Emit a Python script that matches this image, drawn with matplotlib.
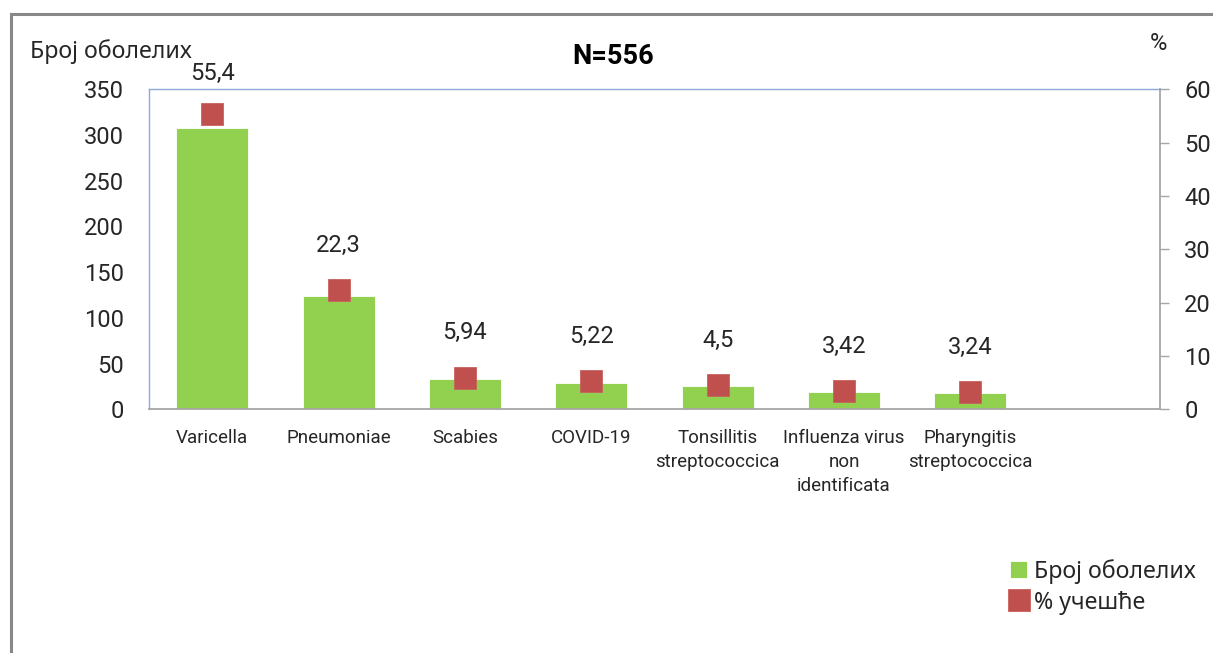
import matplotlib
matplotlib.use("Agg")
import matplotlib.pyplot as plt
from matplotlib.patches import Rectangle
import numpy as np

plt.rcParams['font.family'] = ['Roboto', 'DejaVu Sans']
CYR = ['Noto Sans', 'DejaVu Sans']

categories = ["Varicella", "Pneumoniae", "Scabies", "COVID-19",
              "Tonsillitis\nstreptococcica", "Influenza virus\nnon\nidentificata",
              "Pharyngitis\nstreptococcica"]
counts = [308, 124, 33, 29, 25, 19, 18]
percents = [55.4, 22.3, 5.94, 5.22, 4.5, 3.42, 3.24]
pct_labels = ["55,4", "22,3", "5,94", "5,22", "4,5", "3,42", "3,24"]
left_ticks = [0, 50, 100, 150, 200, 250, 300, 350]
right_ticks = [0, 10, 20, 30, 40, 50, 60]

GREEN = "#92D050"
RED = "#C0504D"
BLUE = "#8EA9DB"
GRAY = "#A6A6A6"
TXT = "#262626"

W, H = 1213, 653
fig = plt.figure(figsize=(W/100, H/100), dpi=100)
ax = fig.add_axes([149/W, 1-409.3/H, (1160-149)/W, (409.3-89.3)/H])
ax2 = ax.twinx()

x = np.arange(len(categories))
bars = ax.bar(x, counts, width=0.57, color=GREEN, edgecolor="white", linewidth=0.6,
              label="Број оболелих", zorder=2)
ax.set_xlim(-0.5, 7.5)
ax.set_ylim(0, 350)
ax.set_yticks(left_ticks)
ax.set_yticklabels([str(t) for t in left_ticks])
ax.tick_params(axis='y', length=0, pad=18, labelsize=17, labelcolor=TXT)
ax.set_xticks(x)
ax.set_xticklabels(categories, fontsize=13.5, color=TXT, linespacing=1.45, va='top')
ax.tick_params(axis='x', length=0, pad=14)

for side in ['left', 'top']:
    ax.spines[side].set_color(BLUE)
    ax.spines[side].set_linewidth(1.0)
ax.spines['bottom'].set_color(GRAY)
ax.spines['bottom'].set_linewidth(1.3)
ax.spines['right'].set_visible(False)

line, = ax2.plot(x, percents, linestyle='none', marker='s', markersize=15.5,
                 color=RED, markeredgecolor="#C9625F", markeredgewidth=0.6,
                 label="% учешће", zorder=3)
ax2.set_ylim(0, 60)
ax2.set_yticks(right_ticks)
ax2.set_yticklabels([str(t) for t in right_ticks])
ax2.tick_params(axis='y', direction='out', length=6.5, width=1.0, color=GRAY,
                pad=11, labelsize=17, labelcolor=TXT)
for side in ['left', 'top', 'bottom']:
    ax2.spines[side].set_visible(False)
ax2.spines['right'].set_color(GRAY)
ax2.spines['right'].set_linewidth(1.3)

# data labels above markers, kept inside the chart's top area (like Excel)
for xi, p, lab in zip(x, percents, pct_labels):
    px, py = ax2.transData.transform((xi, p))
    ly = min(py + 45, H - 73)
    ax2.annotate(lab, (xi, p), xytext=(px, ly), textcoords='figure pixels',
                 ha='center', va='center', fontsize=17, color=TXT)

fig.text(30/W, 1-52/H, "Број оболелих", fontsize=16.7, color=TXT,
         ha='left', va='center', family=CYR)
fig.text(1158/W, 1-43/H, "%", fontsize=17, color=TXT, ha='center', va='center')
fig.text(613/W, 1-56/H, "N=556", fontsize=19.5, fontweight='bold', color='black',
         ha='center', va='center')

leg = fig.legend([bars, line], ["Број оболелих", "% учешће"],
                 loc='upper left', bbox_to_anchor=(1010/W, 1-559/H),
                 frameon=False, prop={'family': CYR, 'size': 16.7},
                 handlelength=0.75, handleheight=0.75,
                 handletextpad=0.3, labelspacing=0.3, borderaxespad=0, borderpad=0)
for t in leg.get_texts():
    t.set_color(TXT)

fig.patches.append(Rectangle((11/W, -0.2), 1.2, 0.2 + (1-14/H),
                             transform=fig.transFigure, fill=False,
                             edgecolor="#888888", linewidth=2.2))

fig.savefig("out.png", dpi=100)
